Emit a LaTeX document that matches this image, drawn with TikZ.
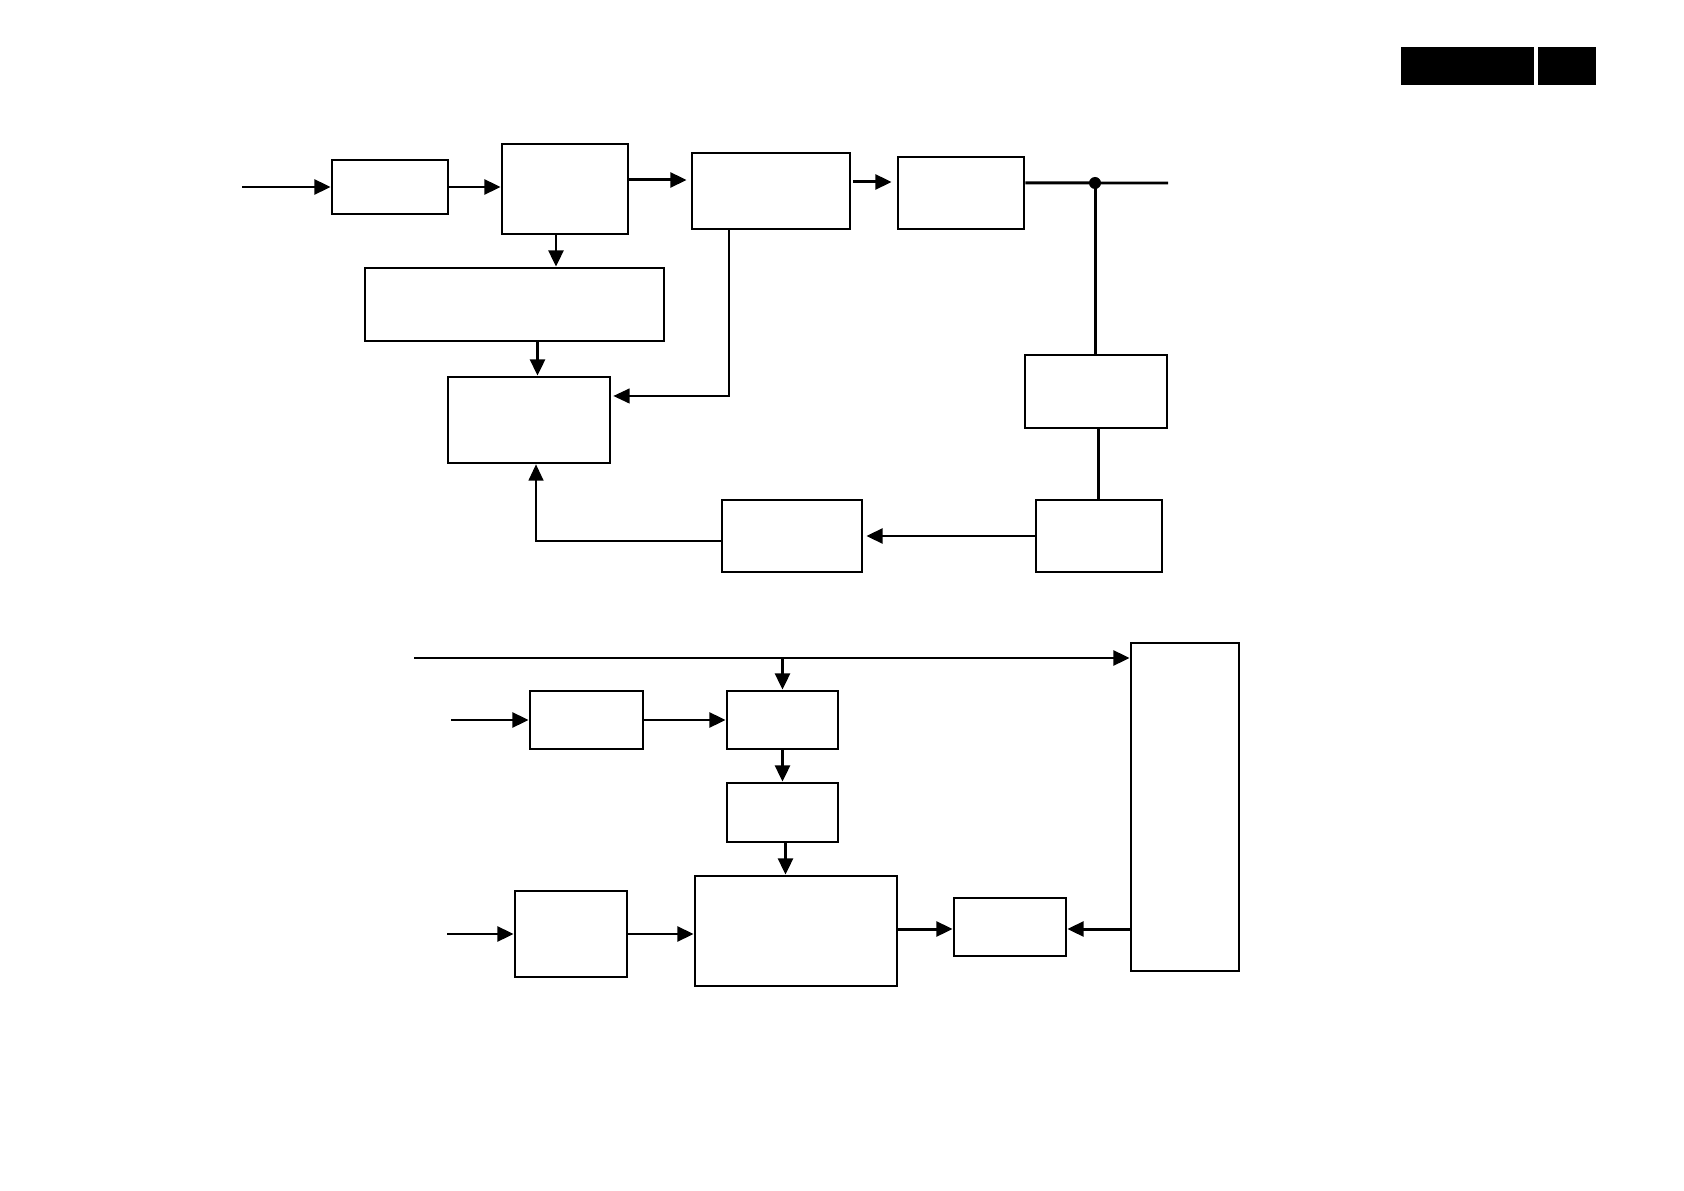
\documentclass[tikz,border=0pt]{standalone}
\usetikzlibrary{arrows.meta}

\begin{document}
\begin{tikzpicture}[x=0.01cm,y=-0.01cm,
  blk/.style={draw,line width=0.75pt,inner sep=0pt},
  wire/.style={line width=0.85pt},
  arr/.style={wire,-{Triangle[length=4.6pt,width=4.2pt]}},
  thinarr/.style={line width=0.5pt,-{Triangle[length=4.6pt,width=4.2pt]}}]
  \useasboundingbox (0,0) rectangle (1684,1191);

  % Header tabs
  \fill[black] (1401,47) rectangle (1534,85);
  \fill[black] (1538,47) rectangle (1596,85);

  % Upper chain
  \node[blk,minimum width=1.16cm,minimum height=0.54cm] (inbuf) at (390,187) {};
  \node[blk,minimum width=1.26cm,minimum height=0.90cm] (proc) at (565,189) {};
  \node[blk,minimum width=2.99cm,minimum height=0.73cm] (wide) at (514.5,304.5) {};
  \node[blk,minimum width=1.58cm,minimum height=0.76cm] (mod) at (771,191) {};
  \node[blk,minimum width=1.26cm,minimum height=0.72cm] (drv) at (961,193) {};
  \node[blk,minimum width=1.42cm,minimum height=0.73cm] (sense) at (1096,391.5) {};
  \node[blk,minimum width=1.62cm,minimum height=0.86cm] (ctrl) at (529,420) {};
  \node[blk,minimum width=1.40cm,minimum height=0.72cm] (fbk) at (792,536) {};
  \node[blk,minimum width=1.26cm,minimum height=0.72cm] (det) at (1099,536) {};

  \coordinate (inA) at (242,187);
  \coordinate (outA) at (1168,183);
  \coordinate (tap) at (1095,183);

  \draw[arr] (inA) -- (inbuf.west);
  \draw[arr] (inbuf.east) -- (inbuf.east -| proc.west);
  \draw[arr] ([yshift=0.09cm]proc.east) -- ([yshift=0.09cm,xshift=-0.04cm]proc.east -| mod.west);
  \draw[arr] ([yshift=0.09cm,xshift=0.02cm]mod.east) -- ([yshift=0.09cm,xshift=-0.05cm]mod.east -| drv.west);
  \draw[wire] ([yshift=0.10cm]drv.east) -- (outA);
  \fill (tap) circle (6);
  \draw[wire] (tap) -- (tap |- sense.north);
  \draw[wire] ([xshift=0.02cm]sense.south) -- ([xshift=0.02cm]sense.south |- det.north);
  \draw[arr] (det.west) -- ([xshift=0.03cm]det.west -| fbk.east);
  \draw[thinarr] ([yshift=-0.05cm]fbk.west) -| ([xshift=0.07cm]ctrl.south);
  \draw[thinarr] ([xshift=-0.42cm]mod.south) |- ([yshift=0.24cm,xshift=0.02cm]ctrl.east);
  \draw[arr] ([xshift=-0.09cm]proc.south) -- ([xshift=-0.09cm]proc.south |- wide.north);
  \draw[arr] ([xshift=0.23cm]wide.south) -- ([xshift=0.23cm]wide.south |- ctrl.north);

  % Lower chain
  \node[blk,minimum width=1.13cm,minimum height=0.58cm] (pre) at (586.5,720) {};
  \node[blk,minimum width=1.11cm,minimum height=0.58cm] (mix) at (782.5,720) {};
  \node[blk,minimum width=1.11cm,minimum height=0.59cm] (filt) at (782.5,812.5) {};
  \node[blk,minimum width=2.02cm,minimum height=1.10cm] (core) at (796,931) {};
  \node[blk,minimum width=1.12cm,minimum height=0.86cm] (aux) at (571,934) {};
  \node[blk,minimum width=1.12cm,minimum height=0.58cm] (outbuf) at (1010,927) {};
  \node[blk,minimum width=1.08cm,minimum height=3.28cm] (conn) at (1185,807) {};

  \coordinate (bus) at (414,658);
  \coordinate (inB) at (451,720);
  \coordinate (inC) at (447,934);

  \draw[arr] (bus) -- (bus -| conn.west);
  \draw[arr] (mix.north |- bus) -- (mix.north);
  \draw[arr] (inB) -- (pre.west);
  \draw[arr] (pre.east) -- (mix.west);
  \draw[arr] (mix.south) -- (filt.north);
  \draw[arr] ([xshift=0.03cm]filt.south) -- ([xshift=0.03cm]filt.south |- core.north);
  \draw[arr] (inC) -- (aux.west);
  \draw[arr] (aux.east) -- (aux.east -| core.west);
  \draw[arr] ([yshift=-0.02cm]outbuf.west -| core.east) -- ([yshift=-0.02cm]outbuf.west);
  \draw[arr] ([yshift=-0.02cm]outbuf.east -| conn.west) -- ([yshift=-0.02cm]outbuf.east);
\end{tikzpicture}
\end{document}
